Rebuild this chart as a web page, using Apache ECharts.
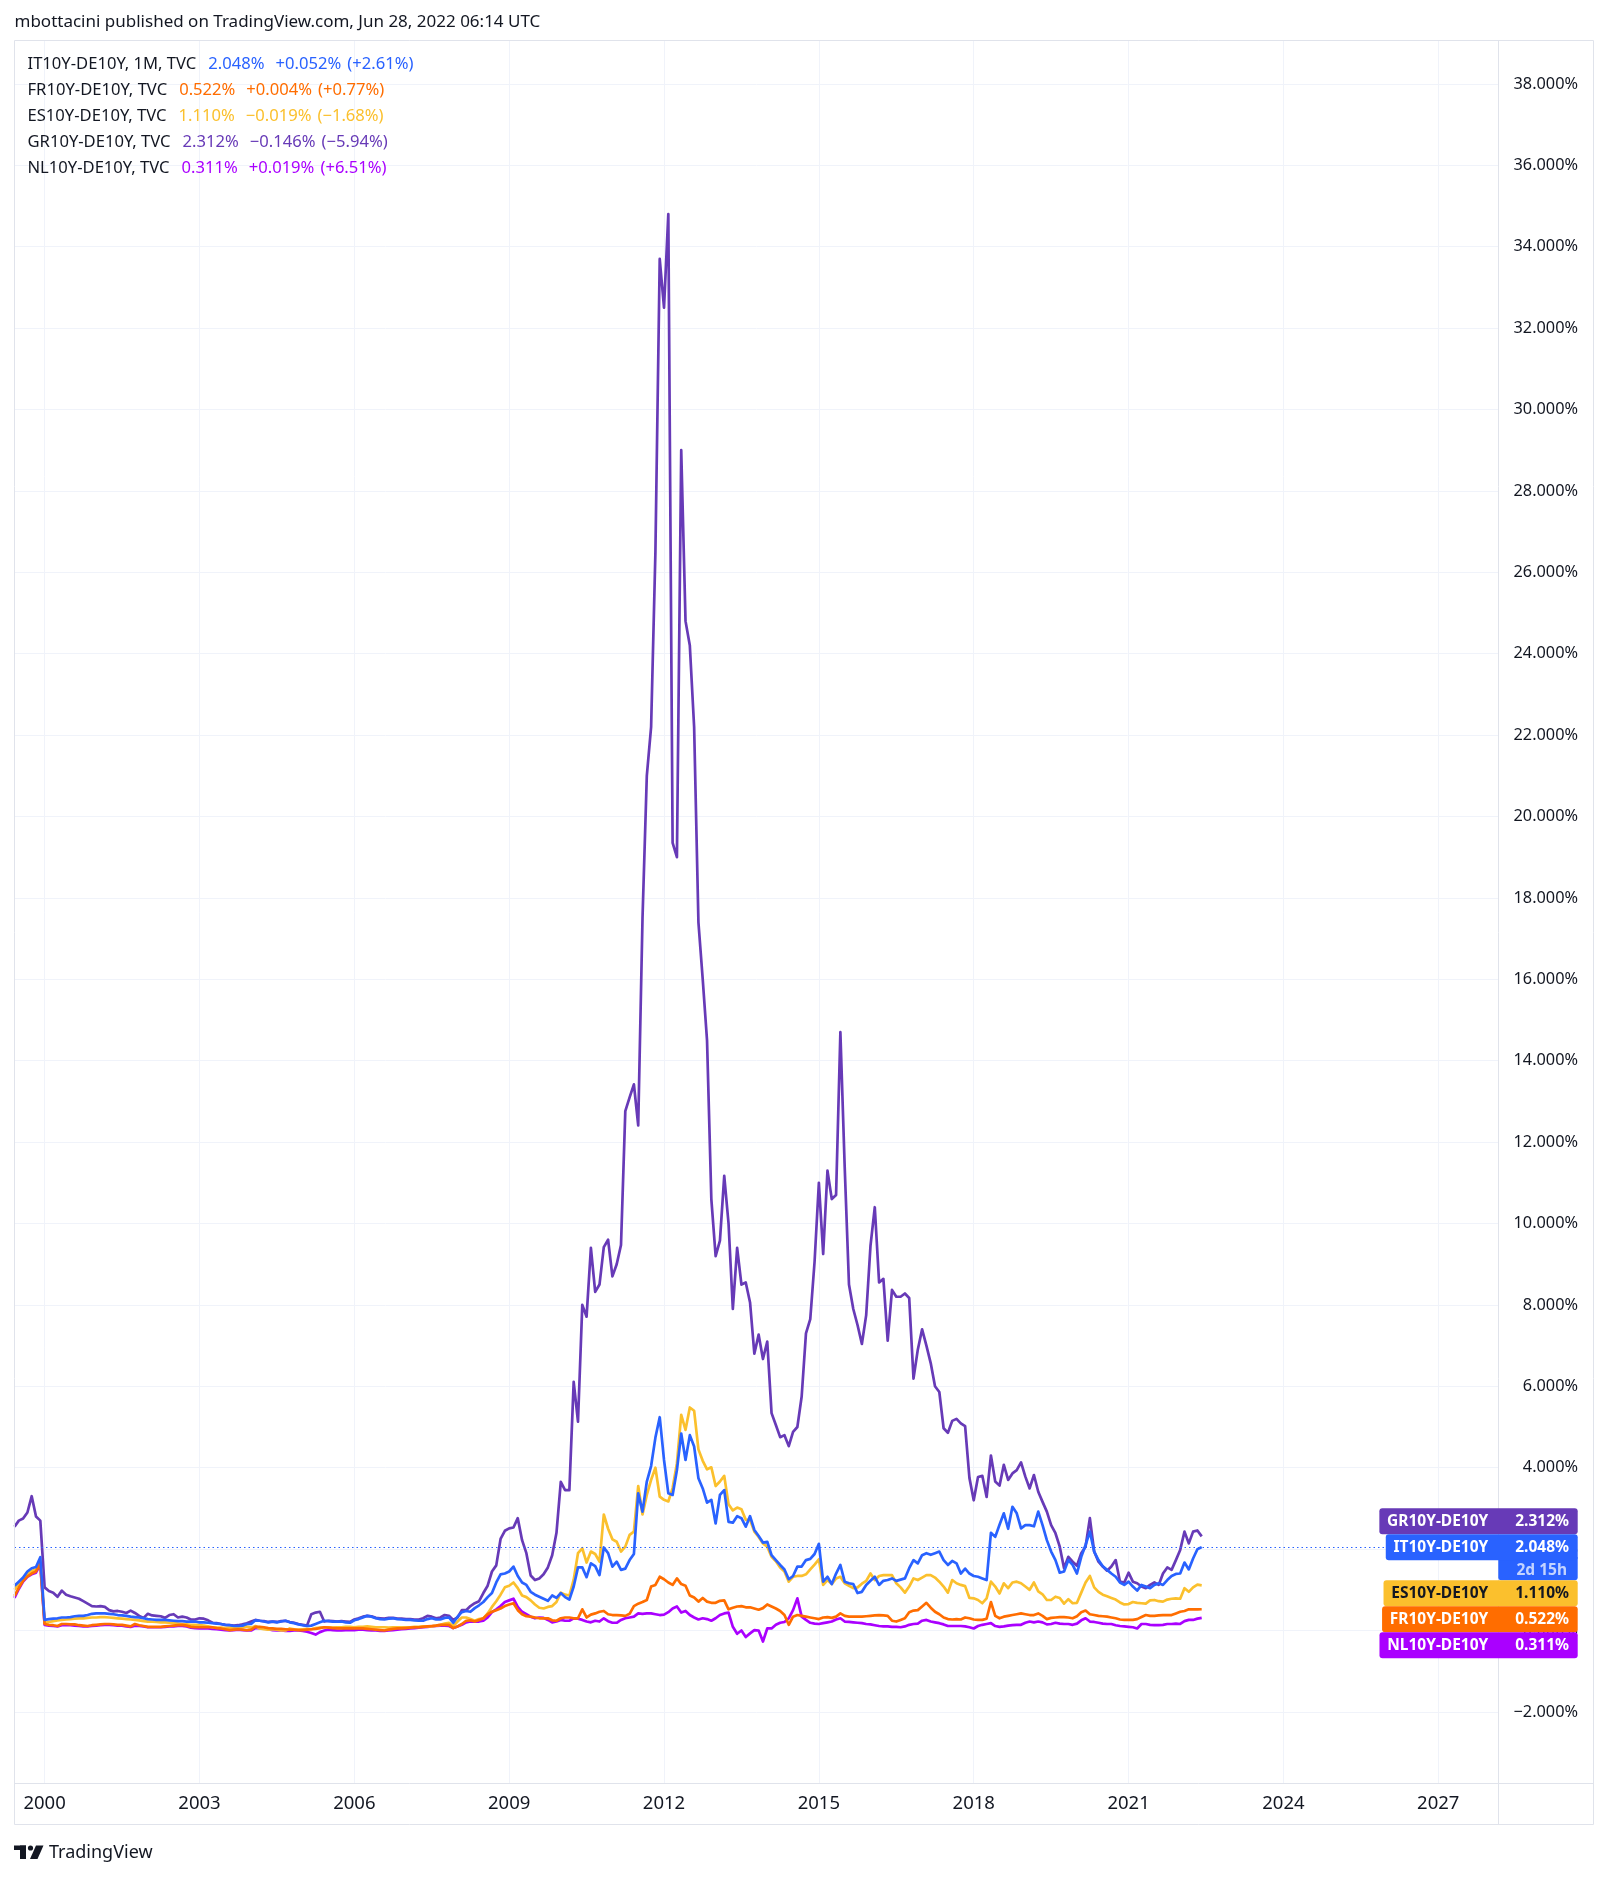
<!DOCTYPE html>
<html><head><meta charset="utf-8">
<script src="https://cdn.jsdelivr.net/npm/echarts@6/dist/echarts.min.js"></script>
<style>html,body{margin:0;padding:0;background:#fff;}#c{width:1609px;height:1878px;}</style>
</head><body><div id="c"></div>
<script>
// ---------------- DATA (monthly spreads vs DE10Y, %; first point = 1999-06) ----------------
const firstMonth = {year: 1999, month: 6};
const lastCategory = {year: 2028, month: 3};
const labelYears = [2000, 2003, 2006, 2009, 2012, 2015, 2018, 2021, 2024, 2027];
const yTickMin = -2, yTickMax = 38, yTickStep = 2;

const itSpread = [
  1.10,1.20,1.30,1.45,1.53,1.56,1.80,
  0.26,0.28,0.29,0.30,0.32,0.32,0.33,0.35,0.36,0.36,0.38,0.41,
  0.42,0.42,0.42,0.41,0.40,0.38,0.37,0.36,0.34,0.33,0.32,0.30,
  0.28,0.27,0.26,0.26,0.26,0.25,0.24,0.23,0.23,0.22,0.22,0.22,
  0.20,0.20,0.19,0.18,0.17,0.16,0.14,0.13,0.11,0.11,0.12,0.16,
  0.16,0.25,0.24,0.22,0.20,0.22,0.20,0.22,0.24,0.20,0.18,0.15,
  0.13,0.11,0.12,0.16,0.20,0.24,0.23,0.22,0.22,0.22,0.20,0.19,
  0.25,0.28,0.32,0.36,0.34,0.30,0.28,0.27,0.29,0.30,0.28,0.27,
  0.26,0.26,0.25,0.24,0.24,0.28,0.30,0.27,0.27,0.31,0.32,0.19,
  0.34,0.45,0.48,0.46,0.55,0.62,0.70,0.82,0.92,1.18,1.38,1.40,
  1.45,1.57,1.34,1.18,1.12,0.95,0.88,0.83,0.78,0.73,0.86,0.80,
  0.92,0.82,0.76,1.08,1.55,1.55,1.31,1.65,1.58,1.36,2.04,1.90,
  1.57,1.69,1.49,1.52,1.73,1.88,3.37,2.92,3.66,4.04,4.74,5.24,
  4.19,3.37,3.33,3.94,4.84,4.19,4.80,4.52,3.74,3.49,3.14,3.21,
  2.63,3.33,3.45,2.67,2.65,2.81,2.76,2.55,2.81,2.47,2.32,2.16,
  2.18,1.85,1.73,1.61,1.50,1.26,1.34,1.57,1.57,1.73,1.76,1.88,
  2.13,1.20,1.32,1.14,1.40,1.61,1.20,1.16,1.14,0.92,0.95,1.12,
  1.22,1.32,1.12,1.22,1.24,1.28,1.22,1.25,1.28,1.53,1.73,1.65,
  1.85,1.90,1.86,1.90,1.94,1.73,1.61,1.71,1.65,1.40,1.52,1.40,
  1.34,1.32,1.28,1.24,2.40,2.30,2.60,2.88,2.50,3.04,2.88,2.51,
  2.59,2.59,2.56,2.92,2.59,2.22,1.94,1.73,1.42,1.45,1.73,1.61,
  1.40,1.81,2.10,2.43,1.94,1.73,1.58,1.49,1.40,1.32,1.18,1.12,
  1.20,1.08,0.98,1.12,1.08,1.04,1.12,1.16,1.12,1.24,1.34,1.39,
  1.40,1.67,1.50,1.77,1.996,2.048
];
const frSpread = [
  0.85,1.05,1.22,1.33,1.40,1.45,1.65,
  0.16,0.14,0.13,0.11,0.16,0.16,0.15,0.15,0.13,0.12,0.11,0.13,
  0.14,0.15,0.16,0.16,0.15,0.14,0.14,0.12,0.10,0.16,0.13,0.11,
  0.09,0.09,0.09,0.09,0.10,0.11,0.12,0.13,0.14,0.12,0.09,0.08,
  0.08,0.08,0.08,0.08,0.06,0.05,0.03,0.01,0.02,0.03,0.02,0.01,
  0.02,0.09,0.09,0.08,0.06,0.05,0.04,0.04,0.03,0.02,0.02,0.01,
  0.01,0.02,0.03,0.04,0.06,0.08,0.07,0.06,0.05,0.05,0.05,0.05,
  0.05,0.05,0.05,0.04,0.03,0.02,0.01,0.00,0.02,0.04,0.05,0.05,
  0.06,0.07,0.08,0.08,0.09,0.10,0.11,0.12,0.14,0.14,0.14,0.06,
  0.10,0.16,0.24,0.25,0.22,0.26,0.30,0.40,0.46,0.50,0.54,0.60,
  0.64,0.67,0.50,0.40,0.35,0.34,0.32,0.30,0.30,0.30,0.25,0.24,
  0.30,0.32,0.32,0.30,0.30,0.52,0.32,0.39,0.42,0.46,0.48,0.40,
  0.38,0.38,0.37,0.36,0.41,0.60,0.66,0.70,0.75,1.08,1.12,1.32,
  1.26,1.18,1.12,1.28,1.14,1.10,0.86,0.81,0.71,0.80,0.71,0.68,
  0.68,0.73,0.74,0.52,0.56,0.59,0.60,0.57,0.57,0.54,0.51,0.55,
  0.64,0.59,0.54,0.48,0.38,0.14,0.34,0.38,0.36,0.34,0.32,0.30,
  0.28,0.32,0.33,0.31,0.34,0.42,0.36,0.34,0.34,0.34,0.34,0.35,
  0.36,0.37,0.38,0.37,0.36,0.24,0.22,0.26,0.30,0.45,0.49,0.50,
  0.59,0.68,0.56,0.46,0.40,0.32,0.28,0.27,0.28,0.27,0.32,0.30,
  0.27,0.26,0.26,0.29,0.70,0.36,0.30,0.34,0.36,0.38,0.40,0.42,
  0.40,0.38,0.38,0.42,0.36,0.28,0.31,0.32,0.33,0.33,0.32,0.30,
  0.35,0.45,0.49,0.40,0.38,0.36,0.35,0.34,0.32,0.30,0.27,0.26,
  0.26,0.26,0.28,0.33,0.38,0.36,0.36,0.37,0.38,0.38,0.38,0.42,
  0.46,0.48,0.52,0.52,0.518,0.522
];
const esSpread = [
  1.00,1.15,1.28,1.40,1.46,1.50,1.72,
  0.19,0.21,0.23,0.25,0.26,0.27,0.28,0.29,0.30,0.30,0.31,0.32,
  0.32,0.33,0.33,0.32,0.31,0.30,0.29,0.28,0.27,0.26,0.25,0.23,
  0.22,0.22,0.21,0.20,0.20,0.19,0.18,0.17,0.16,0.15,0.14,0.14,
  0.13,0.12,0.10,0.08,0.07,0.07,0.06,0.07,0.05,0.06,0.08,0.10,
  0.07,0.11,0.05,0.03,0.02,0.03,0.02,0.00,0.00,0.05,0.03,0.02,
  0.03,0.04,0.03,0.06,0.07,0.08,0.08,0.07,0.08,0.08,0.09,0.09,
  0.08,0.09,0.09,0.10,0.09,0.08,0.08,0.08,0.07,0.08,0.08,0.08,
  0.08,0.08,0.09,0.09,0.10,0.10,0.10,0.12,0.14,0.17,0.19,0.11,
  0.22,0.32,0.32,0.28,0.24,0.28,0.30,0.42,0.58,0.72,0.88,1.06,
  1.10,1.18,1.04,0.86,0.82,0.74,0.64,0.56,0.54,0.58,0.60,0.70,
  0.93,0.88,0.86,1.25,1.90,2.02,1.67,1.94,1.88,1.69,2.85,2.50,
  2.24,2.18,1.94,2.06,2.35,2.43,3.55,2.85,3.33,3.70,4.00,3.29,
  3.21,3.17,3.50,4.11,5.30,4.93,5.48,5.40,4.45,4.17,3.96,4.01,
  3.55,3.66,3.80,3.10,2.95,3.02,2.98,2.72,2.72,2.43,2.30,2.14,
  2.06,1.81,1.70,1.55,1.45,1.20,1.32,1.34,1.34,1.38,1.50,1.62,
  1.75,1.12,1.24,1.14,1.28,1.32,1.16,1.10,1.04,1.06,1.15,1.22,
  1.40,1.24,1.34,1.36,1.36,1.36,1.16,1.06,0.93,1.08,1.28,1.24,
  1.30,1.36,1.36,1.30,1.20,1.08,0.93,1.24,1.16,1.12,1.09,0.80,
  0.79,0.75,0.67,0.79,1.20,1.08,0.91,1.16,1.04,1.18,1.20,1.16,
  1.08,1.00,1.18,0.96,0.89,0.75,0.75,0.83,0.80,0.66,0.77,0.67,
  0.68,0.93,1.18,1.34,1.06,0.95,0.88,0.84,0.80,0.76,0.69,0.64,
  0.65,0.70,0.68,0.67,0.66,0.74,0.75,0.72,0.71,0.76,0.78,0.79,
  0.78,1.04,0.95,1.06,1.129,1.110
];
const grSpread = [
  2.55,2.70,2.75,2.90,3.30,2.80,2.70,
  1.06,0.97,0.93,0.83,0.98,0.88,0.84,0.81,0.78,0.72,0.66,0.60,
  0.59,0.60,0.58,0.50,0.47,0.48,0.46,0.43,0.49,0.43,0.36,0.31,
  0.41,0.37,0.36,0.35,0.31,0.38,0.40,0.32,0.34,0.32,0.27,0.27,
  0.30,0.29,0.25,0.19,0.18,0.16,0.14,0.13,0.12,0.13,0.15,0.18,
  0.22,0.26,0.24,0.23,0.21,0.22,0.21,0.23,0.24,0.21,0.19,0.16,
  0.14,0.12,0.40,0.44,0.46,0.22,0.24,0.23,0.22,0.23,0.22,0.21,
  0.27,0.30,0.34,0.36,0.35,0.31,0.30,0.29,0.31,0.31,0.29,0.29,
  0.28,0.28,0.27,0.27,0.30,0.36,0.34,0.30,0.32,0.38,0.36,0.26,
  0.32,0.50,0.50,0.60,0.67,0.72,0.92,1.10,1.45,1.60,2.25,2.45,
  2.51,2.53,2.76,2.22,1.90,1.35,1.24,1.28,1.38,1.55,1.85,2.40,
  3.65,3.45,3.45,6.11,5.13,8.00,7.71,9.40,8.32,8.50,9.42,9.60,
  8.70,9.00,9.47,12.76,13.10,13.42,12.41,17.50,21.00,22.20,26.50,33.70,
  32.50,34.80,19.35,19.00,29.00,24.80,24.20,22.20,17.40,16.00,14.50,10.60,
  9.20,9.58,11.17,10.00,7.90,9.40,8.50,8.55,8.06,6.80,7.27,6.67,
  7.10,5.34,5.05,4.75,4.80,4.53,4.88,5.00,5.75,7.30,7.65,9.06,
  11.00,9.25,11.30,10.60,10.70,14.70,11.40,8.50,7.90,7.50,7.04,7.75,
  9.45,10.40,8.55,8.64,7.12,8.37,8.20,8.20,8.28,8.17,6.19,6.90,
  7.40,7.00,6.57,6.00,5.86,4.97,4.86,5.15,5.20,5.09,5.02,3.75,
  3.20,3.77,3.80,3.28,4.30,3.66,3.56,4.07,3.70,3.86,3.94,4.13,
  3.78,3.49,3.82,3.41,3.16,2.92,2.59,2.39,2.06,1.53,1.81,1.69,
  1.59,1.90,2.06,2.76,1.94,1.69,1.57,1.47,1.57,1.73,1.20,1.18,
  1.42,1.20,1.16,1.08,1.04,1.12,1.18,1.12,1.40,1.55,1.49,1.73,
  1.98,2.43,2.14,2.43,2.458,2.312
];
const nlSpread = [
  0.80,1.02,1.20,1.32,1.38,1.42,1.62,
  0.14,0.12,0.11,0.10,0.13,0.14,0.13,0.12,0.11,0.10,0.10,0.11,
  0.12,0.13,0.14,0.14,0.13,0.12,0.12,0.10,0.09,0.12,0.11,0.10,
  0.08,0.08,0.08,0.08,0.09,0.10,0.10,0.11,0.11,0.10,0.07,0.06,
  0.05,0.05,0.05,0.04,0.03,0.02,0.01,0.00,0.01,0.02,0.01,0.00,
  0.00,0.06,0.06,0.05,0.03,0.01,0.00,0.00,-0.01,-0.01,0.00,0.00,
  -0.01,-0.03,-0.06,-0.10,-0.04,0.00,0.02,0.01,0.00,0.00,0.01,0.01,
  0.01,0.02,0.02,0.01,0.00,0.00,-0.01,-0.01,0.00,0.01,0.02,0.03,
  0.04,0.05,0.06,0.07,0.08,0.09,0.10,0.11,0.12,0.12,0.11,0.06,
  0.10,0.14,0.20,0.22,0.22,0.22,0.24,0.32,0.45,0.52,0.60,0.70,
  0.74,0.78,0.58,0.46,0.40,0.34,0.30,0.32,0.31,0.26,0.20,0.22,
  0.26,0.24,0.24,0.30,0.29,0.26,0.22,0.20,0.24,0.22,0.30,0.23,
  0.19,0.19,0.26,0.30,0.32,0.34,0.42,0.41,0.42,0.42,0.40,0.38,
  0.39,0.45,0.54,0.59,0.44,0.48,0.38,0.32,0.27,0.30,0.28,0.24,
  0.30,0.38,0.42,0.44,0.09,-0.08,0.00,-0.16,-0.07,0.01,0.00,-0.27,
  0.05,0.05,0.14,0.19,0.21,0.30,0.50,0.79,0.34,0.26,0.19,0.17,
  0.16,0.18,0.20,0.22,0.27,0.30,0.22,0.21,0.20,0.19,0.18,0.16,
  0.15,0.13,0.11,0.10,0.10,0.09,0.09,0.08,0.10,0.14,0.16,0.17,
  0.24,0.26,0.22,0.20,0.18,0.15,0.11,0.11,0.11,0.11,0.10,0.08,
  0.05,0.11,0.14,0.16,0.18,0.11,0.09,0.10,0.12,0.13,0.14,0.14,
  0.19,0.22,0.20,0.22,0.20,0.15,0.16,0.19,0.17,0.16,0.16,0.14,
  0.17,0.25,0.30,0.22,0.21,0.19,0.17,0.16,0.16,0.13,0.11,0.10,
  0.09,0.08,0.05,0.16,0.16,0.14,0.13,0.13,0.14,0.16,0.16,0.17,
  0.16,0.23,0.26,0.26,0.292,0.311
];

const seriesDefs = [
  {key: 'IT', name: 'IT10Y-DE10Y', legend: 'IT10Y-DE10Y, 1M, TVC', color: '#2962ff', text: '#ffffff', data: itSpread},
  {key: 'FR', name: 'FR10Y-DE10Y', legend: 'FR10Y-DE10Y, TVC', color: '#ff6d00', text: '#ffffff', data: frSpread},
  {key: 'ES', name: 'ES10Y-DE10Y', legend: 'ES10Y-DE10Y, TVC', color: '#fbc02d', text: '#131722', data: esSpread},
  {key: 'GR', name: 'GR10Y-DE10Y', legend: 'GR10Y-DE10Y, TVC', color: '#673ab7', text: '#ffffff', data: grSpread},
  {key: 'NL', name: 'NL10Y-DE10Y', legend: 'NL10Y-DE10Y, TVC', color: '#aa00ff', text: '#ffffff', data: nlSpread}
];
const drawOrder = ['NL', 'GR', 'ES', 'FR', 'IT'];
const headerText = 'mbottacini published on TradingView.com, Jun 28, 2022 06:14 UTC';
const countdownText = '2d 15h';

// ---------------- LAYOUT ----------------
const FONT = '"Noto Sans", sans-serif';
const W = 1609, H = 1878;
const plotL = 14.5, plotR = 1498.5, plotT = 41, plotB = 1783.5;
const frameR = 1593.5, frameB = 1824.5;
const zeroY = 1630.5, pxPerPct = 40.7;

const categories = [];
{
  const start = firstMonth.year * 12 + firstMonth.month - 1;
  const end = lastCategory.year * 12 + lastCategory.month - 1;
  for (let t = start; t <= end; t++) {
    const y = Math.floor(t / 12), m = t % 12 + 1;
    categories.push(y + '-' + String(m).padStart(2, '0'));
  }
}
const isYearTick = (idx, val) => {
  const [y, m] = String(val).split('-');
  return m === '01' && labelYears.indexOf(+y) >= 0;
};

const minus = '\u2212';
const fmtSigned = (v, d) => (v < 0 ? minus : '+') + Math.abs(v).toFixed(d);
const fmtAxis = v => (v < 0 ? minus : '') + Math.abs(v).toFixed(3) + '%';

const dataMin = (zeroY - plotB) / pxPerPct;
const dataMax = (zeroY - plotT) / pxPerPct;
const lblTop = zeroY - yTickMax * pxPerPct;
const lblBottom = zeroY - yTickMin * pxPerPct;

const chart = echarts.init(document.getElementById('c'), null, {renderer: 'canvas'});

const itDef = seriesDefs.find(s => s.key === 'IT');
const itLast = itDef.data[itDef.data.length - 1];

const series = drawOrder.map(k => {
  const s = seriesDefs.find(d => d.key === k);
  const o = {
    name: s.name, type: 'line', xAxisIndex: 0, yAxisIndex: 0,
    data: s.data, showSymbol: false, symbol: 'none', smooth: false,
    lineStyle: {color: s.color, width: 2.7, join: 'round'}, itemStyle: {color: s.color},
    emphasis: {disabled: true}, silent: true, z: 3
  };
  if (k === 'IT') {
    o.markLine = {
      silent: true, symbol: ['none', 'none'], label: {show: false},
      lineStyle: {color: '#2962ff', type: [1.5, 3], width: 1},
      data: [{yAxis: itLast}]
    };
  }
  return o;
});

chart.setOption({
  animation: false,
  backgroundColor: '#ffffff',
  grid: [
    {left: plotL, right: W - plotR, top: plotT, bottom: H - plotB, containLabel: false},
    {left: plotL, right: W - plotR, top: lblTop, bottom: H - lblBottom, containLabel: false}
  ],
  xAxis: [
    {
      type: 'category', gridIndex: 0, data: categories, boundaryGap: false,
      axisLine: {show: false}, axisTick: {show: false},
      axisLabel: {
        interval: isYearTick,
        formatter: v => String(v).slice(0, 4), color: '#131722',
        fontFamily: FONT, fontSize: 18.5, margin: 11
      },
      splitLine: {show: true, interval: isYearTick, lineStyle: {color: '#f0f3fa', width: 1}}
    },
    {type: 'value', gridIndex: 1, min: 0, max: 1, show: false}
  ],
  yAxis: [
    {type: 'value', gridIndex: 0, min: dataMin, max: dataMax, show: false, splitLine: {show: false}},
    {
      type: 'value', gridIndex: 1, position: 'right', min: yTickMin, max: yTickMax, interval: yTickStep,
      axisLine: {show: false}, axisTick: {show: false},
      axisLabel: {formatter: fmtAxis, color: '#131722', fontFamily: FONT, fontSize: 16.3, align: 'right', margin: 79.5},
      splitLine: {show: true, lineStyle: {color: '#f0f3fa', width: 1}}
    }
  ],
  series: series
});

// ---------------- GRAPHICS: header, legend, frame, badges, footer ----------------
const g = [];
g.push({type: 'text', x: 14.5, y: 22, z: 50, style: {text: headerText, font: '17px ' + FONT, fill: '#131722', align: 'left', verticalAlign: 'middle'}});
// frame
g.push({type: 'rect', z: 40, shape: {x: 14.5, y: 40.5, width: frameR - 14.5, height: frameB - 40.5}, style: {fill: 'none', stroke: '#e0e3eb', lineWidth: 1}});
g.push({type: 'line', z: 40, shape: {x1: plotR, y1: 40.5, x2: plotR, y2: frameB}, style: {stroke: '#e0e3eb', lineWidth: 1}});
g.push({type: 'line', z: 40, shape: {x1: 14.5, y1: plotB, x2: frameR, y2: plotB}, style: {stroke: '#e0e3eb', lineWidth: 1}});

// legend lines
const LF = '16.6px ' + FONT;
const legendY0 = 64, legendDy = 26.1;
seriesDefs.forEach((s, i) => {
  const n = s.data.length, last = s.data[n - 1], prev = s.data[n - 2];
  const ch = last - prev, pct = ch / prev * 100;
  const txt = '{n|' + s.legend + '}{v|' + last.toFixed(3) + '%}{c|' + fmtSigned(ch, 3) + '%}{p|(' + fmtSigned(pct, 2) + '%)}';
  g.push({type: 'text', x: 27.5, y: legendY0 + i * legendDy, z: 50, style: {
    text: txt, font: LF, align: 'left', verticalAlign: 'middle',
    rich: {
      n: {fill: '#131722', font: LF, padding: [0, 12, 0, 0]},
      v: {fill: s.color, font: LF, padding: [0, 11, 0, 0]},
      c: {fill: s.color, font: LF, padding: [0, 6, 0, 0]},
      p: {fill: s.color, font: LF}
    }
  }});
});

// price badges on the right axis
const BF = 'bold 15.5px ' + FONT;
const badgeH = 26, extH = 20, badgeRight = 1577.7, nameRight = 1488.3, valueRight = 1569;
const items = seriesDefs.map(s => {
  const last = s.data[s.data.length - 1];
  return {s, last, y: chart.convertToPixel({yAxisIndex: 0}, last)};
}).sort((a, b) => a.y - b.y);
const ai = items.findIndex(it => it.s.key === 'IT');
items[ai].top = items[ai].y - badgeH / 2;
items[ai].bottom = items[ai].top + badgeH + extH;
for (let i = ai - 1; i >= 0; i--) {
  const t = Math.min(items[i].y - badgeH / 2, items[i + 1].top - badgeH);
  items[i].top = t; items[i].bottom = t + badgeH;
}
for (let i = ai + 1; i < items.length; i++) {
  const t = Math.max(items[i].y - badgeH / 2, items[i - 1].bottom);
  items[i].top = t; items[i].bottom = t + badgeH;
}
items.forEach(it => {
  const s = it.s, cy = it.top + badgeH / 2;
  if (s.key === 'IT') {
    g.push({type: 'rect', z: 60, shape: {x: 1498.3, y: it.top + badgeH - 3, width: badgeRight - 1498.3, height: extH + 3, r: [0, 0, 3, 3]}, style: {fill: s.color}});
    g.push({type: 'text', x: valueRight - 2, y: it.top + badgeH + extH / 2, z: 62, style: {text: countdownText, font: BF, fill: 'rgba(255,255,255,0.72)', align: 'right', verticalAlign: 'middle'}});
  }
  g.push({type: 'text', x: badgeRight, y: cy, z: 61, style: {
    text: s.name, font: BF, fill: s.text, align: 'right', verticalAlign: 'middle',
    backgroundColor: s.color, borderRadius: 3, padding: [4, badgeRight - nameRight, 4, 7.7], lineHeight: 18
  }});
  g.push({type: 'text', x: valueRight, y: cy, z: 62, style: {
    text: it.last.toFixed(3) + '%', font: BF, fill: s.text, align: 'right', verticalAlign: 'middle'
  }});
});

// footer logo
g.push({type: 'rect', z: 50, shape: {x: 14, y: 1845.5, width: 12, height: 4.5}, style: {fill: '#131722'}});
g.push({type: 'rect', z: 50, shape: {x: 20, y: 1845.5, width: 6, height: 13.5}, style: {fill: '#131722'}});
g.push({type: 'circle', z: 50, shape: {cx: 30.5, cy: 1848, r: 2.6}, style: {fill: '#131722'}});
g.push({type: 'polygon', z: 50, shape: {points: [[36, 1845.5], [43.5, 1845.5], [37.5, 1859], [30, 1859]]}, style: {fill: '#131722'}});
g.push({type: 'text', x: 49, y: 1852.5, z: 50, style: {text: 'TradingView', font: '18px ' + FONT, fill: '#131722', align: 'left', verticalAlign: 'middle'}});

chart.setOption({graphic: {elements: g}});
</script>
</body></html>
